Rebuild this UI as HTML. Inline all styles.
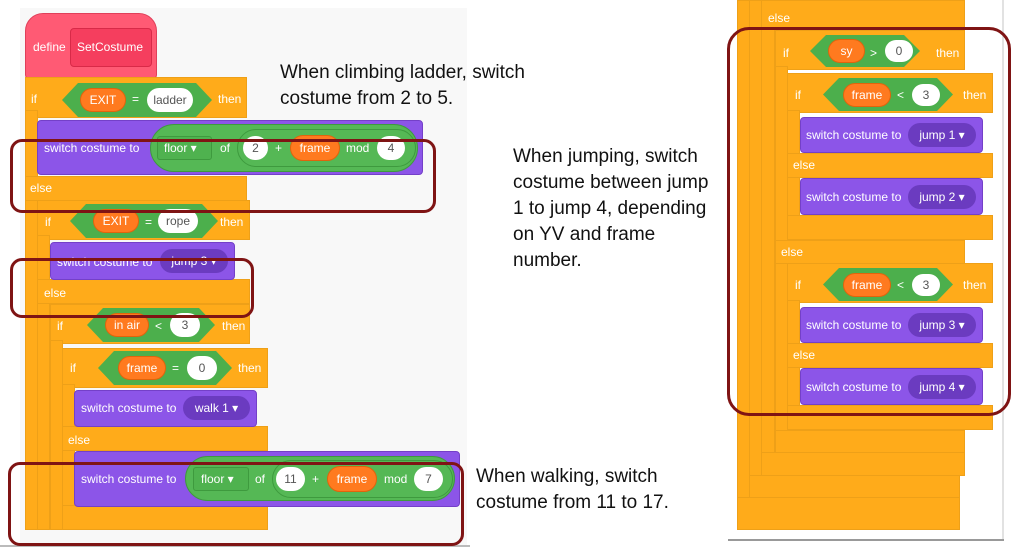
<!DOCTYPE html>
<html><head><meta charset="utf-8"><style>
*{margin:0;padding:0;box-sizing:border-box}
body{width:1024px;height:554px;background:#fff;position:relative;overflow:hidden;font-family:"Liberation Sans",sans-serif}
div{position:absolute}
.o{background:#ffab1a;border:1px solid #eea018}
.p{background:#8c55e8;border:1px solid #7440c8}
.g{background:#4caf4c;clip-path:polygon(0 50%,16px 0,calc(100% - 16px) 0,100% 50%,calc(100% - 16px) 100%,16px 100%)}
.gr{background:#55b855;border:1px solid #3e9a3e;border-radius:24px}
.ov{background:#ff7a1f;border:1px solid #e0640c;border-radius:14px;color:#fff;font-size:12px;text-align:center}
.w{background:#fff;border-radius:14px;color:#555;font-size:12px;text-align:center}
.dd{background:#6b3bc0;border-radius:14px;color:#fff;font-size:12px;text-align:center}
.t{color:#fff;font-size:12px;white-space:nowrap}
.note{color:#111;font-size:19px;line-height:26px;white-space:nowrap}
.red{border:3px solid #7f1414;border-radius:12px}
</style></head><body>
<div style="left:20px;top:8px;width:447px;height:537px;background:#f8f8f8"></div>
<div style="left:0;top:545px;width:470px;height:2px;background:#bbb"></div>
<div style="left:1002px;top:0;width:2px;height:540px;background:#e2e2e2"></div>
<div style="left:728px;top:539px;width:276px;height:2px;background:#999"></div>

<div style="left:25px;top:13px;width:132px;height:66px;background:#ff5a74;border-radius:18px 18px 4px 4px;border:1px solid #e0405a"></div>
<div style="left:70px;top:28px;width:82px;height:39px;background:#f53e5e;border:1px solid #d82a48;border-radius:4px"></div>
<div class="t" style="left:33px;top:40px">define</div>
<div class="t" style="left:77px;top:40px">SetCostume</div>

<div class="o" style="left:25px;top:77px;width:222px;height:41px"></div>
<div class="o" style="left:25px;top:110px;width:13px;height:420px"></div>
<div class="o" style="left:25px;top:176px;width:222px;height:25px"></div>
<div class="o" style="left:37px;top:200px;width:213px;height:40px"></div>
<div class="o" style="left:37px;top:235px;width:13px;height:295px"></div>
<div class="o" style="left:37px;top:279px;width:213px;height:25px"></div>
<div class="o" style="left:50px;top:304px;width:200px;height:40px"></div>
<div class="o" style="left:50px;top:340px;width:13px;height:190px"></div>
<div class="o" style="left:62px;top:348px;width:206px;height:40px"></div>
<div class="o" style="left:62px;top:384px;width:13px;height:146px"></div>
<div class="o" style="left:62px;top:426px;width:206px;height:25px"></div>
<div class="o" style="left:62px;top:505px;width:206px;height:25px"></div>

<div class="t" style="left:31px;top:92px">if</div>
<div class="g" style="left:62px;top:83px;width:150px;height:34px"></div>
<div class="ov" style="left:80px;top:88px;width:46px;height:24px;line-height:22px">EXIT</div>
<div class="t" style="left:132px;top:92px">=</div>
<div class="w" style="left:147px;top:88px;width:46px;height:24px;line-height:24px">ladder</div>
<div class="t" style="left:218px;top:92px">then</div>
<div class="p" style="left:37px;top:120px;width:386px;height:55px;border-radius:4px"></div>
<div class="t" style="left:44px;top:141px">switch costume to</div>
<div class="gr" style="left:150px;top:124px;width:268px;height:48px"></div>
<div style="left:157px;top:136px;width:55px;height:24px;border:1px solid #3e9a3e;background:#4fb24f;border-radius:3px"></div>
<div class="t" style="left:164px;top:141px">floor ▾</div>
<div class="t" style="left:220px;top:141px">of</div>
<div class="gr" style="left:237px;top:129px;width:179px;height:38px"></div>
<div class="w" style="left:243px;top:136px;width:25px;height:24px;line-height:24px">2</div>
<div class="t" style="left:275px;top:141px">+</div>
<div class="ov" style="left:290px;top:135px;width:50px;height:26px;line-height:24px">frame</div>
<div class="t" style="left:346px;top:141px">mod</div>
<div class="w" style="left:377px;top:136px;width:28px;height:24px;line-height:24px">4</div>
<div class="t" style="left:30px;top:181px">else</div>

<div class="t" style="left:45px;top:215px">if</div>
<div class="g" style="left:70px;top:204px;width:148px;height:34px"></div>
<div class="ov" style="left:93px;top:209px;width:46px;height:24px;line-height:22px">EXIT</div>
<div class="t" style="left:145px;top:215px">=</div>
<div class="w" style="left:158px;top:209px;width:40px;height:24px;line-height:24px">rope</div>
<div class="t" style="left:220px;top:215px">then</div>
<div class="p" style="left:50px;top:242px;width:185px;height:38px;border-radius:4px"></div>
<div class="t" style="left:57px;top:255px">switch costume to</div>
<div class="dd" style="left:160px;top:249px;width:68px;height:24px;line-height:24px">jump 3 ▾</div>
<div class="t" style="left:44px;top:286px">else</div>

<div class="t" style="left:57px;top:319px">if</div>
<div class="g" style="left:87px;top:308px;width:128px;height:34px"></div>
<div class="ov" style="left:105px;top:313px;width:44px;height:24px;line-height:22px">in air</div>
<div class="t" style="left:155px;top:319px">&lt;</div>
<div class="w" style="left:170px;top:313px;width:30px;height:24px;line-height:24px">3</div>
<div class="t" style="left:222px;top:319px">then</div>

<div class="t" style="left:70px;top:361px">if</div>
<div class="g" style="left:98px;top:351px;width:134px;height:34px"></div>
<div class="ov" style="left:118px;top:356px;width:48px;height:24px;line-height:22px">frame</div>
<div class="t" style="left:172px;top:361px">=</div>
<div class="w" style="left:187px;top:356px;width:30px;height:24px;line-height:24px">0</div>
<div class="t" style="left:238px;top:361px">then</div>
<div class="p" style="left:74px;top:390px;width:183px;height:37px;border-radius:4px"></div>
<div class="t" style="left:81px;top:401px">switch costume to</div>
<div class="dd" style="left:183px;top:396px;width:67px;height:24px;line-height:24px">walk 1 ▾</div>
<div class="t" style="left:68px;top:433px">else</div>

<div class="p" style="left:74px;top:451px;width:386px;height:56px;border-radius:4px"></div>
<div class="t" style="left:81px;top:472px">switch costume to</div>
<div class="gr" style="left:185px;top:456px;width:270px;height:45px"></div>
<div style="left:193px;top:467px;width:56px;height:24px;border:1px solid #3e9a3e;background:#4fb24f;border-radius:3px"></div>
<div class="t" style="left:201px;top:472px">floor ▾</div>
<div class="t" style="left:255px;top:472px">of</div>
<div class="gr" style="left:272px;top:460px;width:181px;height:38px"></div>
<div class="w" style="left:276px;top:467px;width:29px;height:24px;line-height:24px">11</div>
<div class="t" style="left:312px;top:472px">+</div>
<div class="ov" style="left:327px;top:466px;width:50px;height:26px;line-height:24px">frame</div>
<div class="t" style="left:384px;top:472px">mod</div>
<div class="w" style="left:414px;top:467px;width:29px;height:24px;line-height:24px">7</div>

<div class="o" style="left:737px;top:0;width:13px;height:530px;border-radius:0 0 0 6px"></div>
<div class="o" style="left:737px;top:497px;width:223px;height:33px"></div>
<div class="o" style="left:749px;top:0;width:13px;height:497px"></div>
<div class="o" style="left:749px;top:475px;width:211px;height:23px"></div>
<div class="o" style="left:761px;top:0;width:14px;height:475px"></div>
<div class="o" style="left:761px;top:0;width:204px;height:30px"></div>
<div class="o" style="left:761px;top:452px;width:204px;height:24px"></div>
<div class="t" style="left:768px;top:11px">else</div>
<div class="o" style="left:775px;top:30px;width:190px;height:40px"></div>
<div class="o" style="left:775px;top:66px;width:13px;height:387px"></div>
<div class="o" style="left:775px;top:240px;width:190px;height:24px"></div>
<div class="o" style="left:775px;top:430px;width:190px;height:23px"></div>
<div class="t" style="left:781px;top:245px">else</div>
<div class="t" style="left:783px;top:46px">if</div>
<div class="g" style="left:810px;top:35px;width:110px;height:32px"></div>
<div class="ov" style="left:828px;top:39px;width:37px;height:24px;line-height:22px">sy</div>
<div class="t" style="left:870px;top:46px">&gt;</div>
<div class="w" style="left:885px;top:40px;width:28px;height:22px;line-height:22px">0</div>
<div class="t" style="left:936px;top:46px">then</div>

<div class="o" style="left:787px;top:73px;width:206px;height:40px"></div>
<div class="o" style="left:787px;top:110px;width:13px;height:130px"></div>
<div class="o" style="left:787px;top:153px;width:206px;height:25px"></div>
<div class="o" style="left:787px;top:215px;width:206px;height:25px"></div>
<div class="t" style="left:795px;top:88px">if</div>
<div class="g" style="left:823px;top:78px;width:130px;height:33px"></div>
<div class="ov" style="left:843px;top:83px;width:48px;height:24px;line-height:22px">frame</div>
<div class="t" style="left:897px;top:88px">&lt;</div>
<div class="w" style="left:912px;top:84px;width:28px;height:22px;line-height:22px">3</div>
<div class="t" style="left:963px;top:88px">then</div>
<div class="p" style="left:800px;top:117px;width:183px;height:36px;border-radius:4px"></div>
<div class="t" style="left:806px;top:128px">switch costume to</div>
<div class="dd" style="left:908px;top:123px;width:68px;height:24px;line-height:24px">jump 1 ▾</div>
<div class="t" style="left:793px;top:158px">else</div>
<div class="p" style="left:800px;top:178px;width:183px;height:37px;border-radius:4px"></div>
<div class="t" style="left:806px;top:190px">switch costume to</div>
<div class="dd" style="left:908px;top:185px;width:68px;height:24px;line-height:24px">jump 2 ▾</div>

<div class="o" style="left:787px;top:263px;width:206px;height:40px"></div>
<div class="o" style="left:787px;top:300px;width:13px;height:130px"></div>
<div class="o" style="left:787px;top:343px;width:206px;height:25px"></div>
<div class="o" style="left:787px;top:405px;width:206px;height:25px"></div>
<div class="t" style="left:795px;top:278px">if</div>
<div class="g" style="left:823px;top:268px;width:130px;height:33px"></div>
<div class="ov" style="left:843px;top:273px;width:48px;height:24px;line-height:22px">frame</div>
<div class="t" style="left:897px;top:278px">&lt;</div>
<div class="w" style="left:912px;top:274px;width:28px;height:22px;line-height:22px">3</div>
<div class="t" style="left:963px;top:278px">then</div>
<div class="p" style="left:800px;top:307px;width:183px;height:36px;border-radius:4px"></div>
<div class="t" style="left:806px;top:318px">switch costume to</div>
<div class="dd" style="left:908px;top:313px;width:68px;height:24px;line-height:24px">jump 3 ▾</div>
<div class="t" style="left:793px;top:348px">else</div>
<div class="p" style="left:800px;top:368px;width:183px;height:37px;border-radius:4px"></div>
<div class="t" style="left:806px;top:380px">switch costume to</div>
<div class="dd" style="left:908px;top:375px;width:68px;height:24px;line-height:24px">jump 4 ▾</div>

<div class="red" style="left:10px;top:139px;width:426px;height:74px"></div>
<div class="red" style="left:10px;top:258px;width:244px;height:60px"></div>
<div class="red" style="left:8px;top:462px;width:456px;height:84px"></div>
<div class="red" style="left:727px;top:27px;width:284px;height:389px;border-radius:22px"></div>

<div class="note" style="left:280px;top:60px">When climbing ladder, switch<br>costume from 2 to 5.</div>
<div class="note" style="left:513px;top:144px">When jumping, switch<br>costume between jump<br>1 to jump 4, depending<br>on YV and frame<br>number.</div>
<div class="note" style="left:476px;top:464px">When walking, switch<br>costume from 11 to 17.</div>
</body></html>
